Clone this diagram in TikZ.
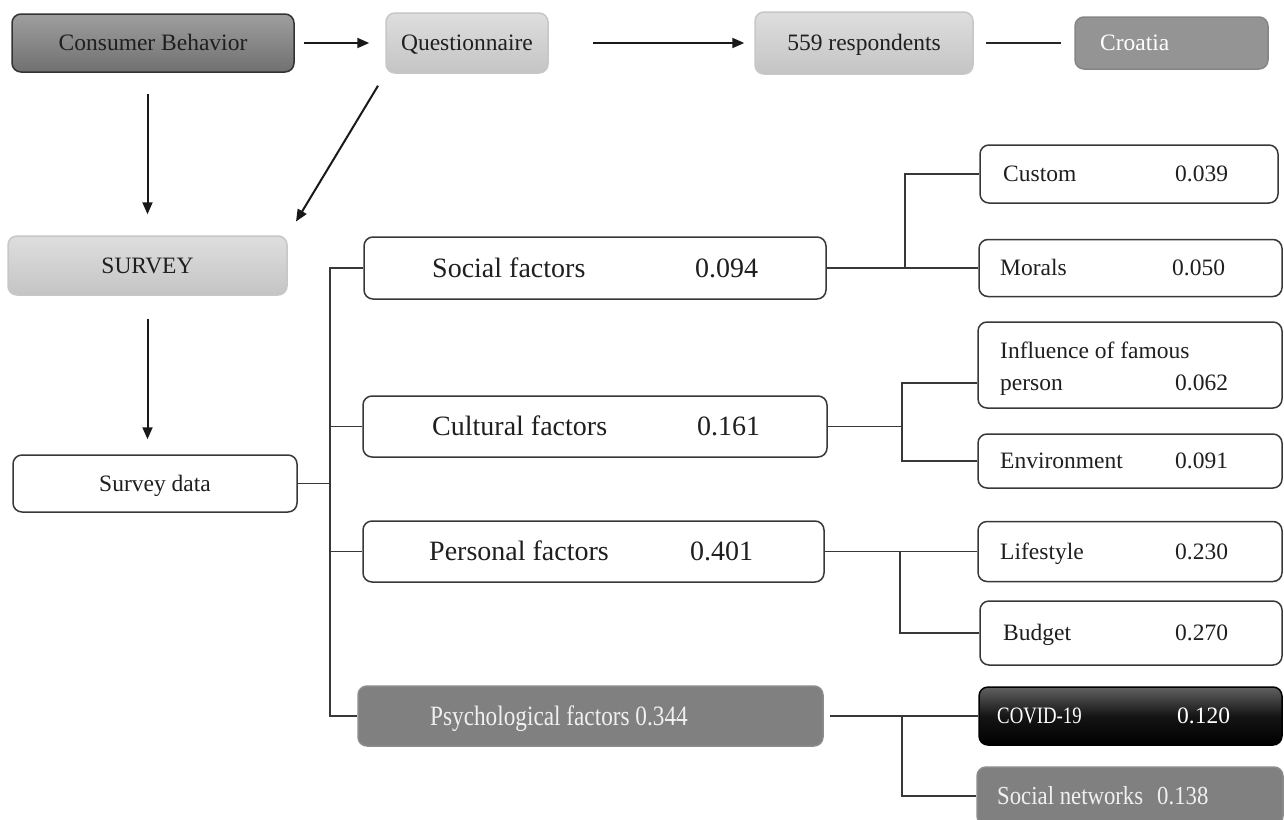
\documentclass[tikz,border=0pt]{standalone}
\usepackage{fontspec}
\setmainfont{Liberation Serif}
\usepackage{graphicx}
\usetikzlibrary{arrows.meta}
\begin{document}
\begin{tikzpicture}[x=1pt,y=-1pt,
  base/.style={rounded corners=9, line width=1.5, inner sep=0, text height=15.5pt, text depth=0pt,
    font=\fontsize{23.5}{28}\selectfont, text=black!88},
  wbox/.style={base, draw=black!78, fill=white},
  lgbox/.style={base, draw=black!22, top color=black!13, bottom color=black!23},
  dgbox/.style={base, draw=black!80, top color=black!38, bottom color=black!56},
  gbox/.style={base, draw=black!45, fill=black!50, text=white},
  kbox/.style={base, draw=black, top color=black!62, bottom color=black, middle color=black!92, text=white},
  txt/.style={inner sep=0, text height=15.5pt, text depth=0pt, anchor=west, font=\fontsize{23.5}{28}\selectfont, text=black!88},
  big/.style={txt, text height=18.5pt, font=\fontsize{28}{32}\selectfont},
  arr/.style={-{Triangle[length=12,width=10]}, line width=2, black!90},
  conn/.style={line width=1.8, black!78}]
\clip (0,0) rectangle (1284,819);
\fill[white] (0,0) rectangle (1284,819);

% top row
\node[dgbox, minimum width=282, minimum height=58] (cb) at (153,43) {Consumer Behavior};
\node[lgbox, minimum width=162, minimum height=60] (q) at (467,43) {Questionnaire};
\node[lgbox, minimum width=218, minimum height=62] (r) at (864,43) {559 respondents};
\node[base, draw=black!48, fill=black!42, minimum width=193, minimum height=52] (cro) at (1171.5,43) {};
\node[txt, text=white] (croT) at (1100,43) {Croatia};

% left column
\node[lgbox, minimum width=279, minimum height=59] (sv) at (147.5,265.5) {SURVEY};
\node[wbox, minimum width=284, minimum height=57] (sd) at (155,483.5) {Survey data};

% factor boxes
\node[wbox, minimum width=462, minimum height=62] (soc) at (595,268) {};
\node[wbox, minimum width=464, minimum height=61] (cul) at (595,426.5) {};
\node[wbox, minimum width=461, minimum height=61] (per) at (593.5,551.5) {};
\node[gbox, minimum width=465, minimum height=60] (psy) at (590.5,716) {};
\node[big] (socL) at (432,268) {Social factors};
\node[big] (socV) at (695,268) {0.094};
\node[big] (culL) at (432,426.5) {Cultural factors};
\node[big] (culV) at (697,426.5) {0.161};
\node[big] (perL) at (429,551.5) {Personal factors};
\node[big] (perV) at (690,551.5) {0.401};
\node[big, text=black!6] (psyL) at (430,716) {\scalebox{0.83}[1]{Psychological factors 0.344}};

% leaf boxes
\node[wbox, minimum width=298, minimum height=58] (cus) at (1129,174) {};
\node[wbox, minimum width=303, minimum height=57] (mor) at (1130.5,268) {};
\node[wbox, minimum width=304, minimum height=86] (inf) at (1130,365) {};
\node[wbox, minimum width=304, minimum height=54] (env) at (1130,461) {};
\node[wbox, minimum width=304, minimum height=60] (lif) at (1130,551.5) {};
\node[wbox, minimum width=302, minimum height=64] (bud) at (1131,633) {};
\node[kbox, minimum width=303, minimum height=58] (cov) at (1130.5,716) {};
\node[gbox, minimum width=306, minimum height=58] (sn) at (1130,796) {};

\node[txt] (cusL) at (1003,174) {Custom};
\node[txt] (cusV) at (1175,174) {0.039};
\node[txt] (morL) at (1000,268) {Morals};
\node[txt] (morV) at (1172,268) {0.050};
\node[txt] (infL) at (1000,351) {Influence of famous};
\node[txt] (infL2) at (1000,383) {person};
\node[txt] (infV) at (1175,383) {0.062};
\node[txt] (envL) at (1000,461) {Environment};
\node[txt] (envV) at (1175,461) {0.091};
\node[txt] (lifL) at (1000,551.5) {Lifestyle};
\node[txt] (lifV) at (1175,551.5) {0.230};
\node[txt] (budL) at (1003,633) {Budget};
\node[txt] (budV) at (1175,633) {0.270};
\node[txt, text=white] (covL) at (997,716) {\scalebox{0.8}[1]{COVID-19}};
\node[txt, text=white] (covV) at (1177,716) {0.120};
\node[txt, text=black!6, text height=17pt, font=\fontsize{26}{30}\selectfont] (snL) at (997,796) {\scalebox{0.875}[1]{Social networks}};
\node[txt, text=black!6, text height=17pt, font=\fontsize{26}{30}\selectfont] (snV) at (1157,796) {\scalebox{0.875}[1]{0.138}};

% top connectors
\draw[arr, shorten <=9, shorten >=16] (cb) -- (q);
\draw[arr, shorten <=44, shorten >=10] (q) -- (r);
\draw[conn, black!85, shorten <=12, shorten >=13] (r) -- (cro);
\draw[arr, shorten <=21, shorten >=21] (sv.north |- cb.south) -- (sv.north);
\draw[arr, shorten <=14, shorten >=16] (q.south west) -- (sv.north east);
\draw[arr, shorten <=23, shorten >=15] (sv.south) -- (sv.south |- sd.north);

% trunk
\coordinate (tr) at (330,0);
\draw[conn] (sd.east) -- (sd.east -| tr);
\draw[conn] (soc.west) -- (soc.west -| tr) -- (psy.west -| tr) -- (psy.west);
\draw[conn] (cul.west) -- (cul.west -| tr);
\draw[conn] (per.west) -- (per.west -| tr);

% social branch
\coordinate (j1) at (905,268);
\draw[conn] (soc.east) -- (mor.west);
\draw[conn] (j1) |- (cus.west);

% cultural branch
\coordinate (j2) at (902,426.5);
\draw[conn] (cul.east) -- (j2);
\draw[conn] ([yshift=-18]inf.west) -| (j2 |- env.west) -- (env.west);

% personal branch
\coordinate (j3) at (900,551.5);
\draw[conn] (per.east) -- (lif.west);
\draw[conn] (j3) |- (bud.west);

% psychological branch
\coordinate (j4) at (902,716);
\draw[conn, shorten <=6] (psy.east) -- (cov.west);
\draw[conn] (j4) |- (sn.west);
\end{tikzpicture}
\end{document}
